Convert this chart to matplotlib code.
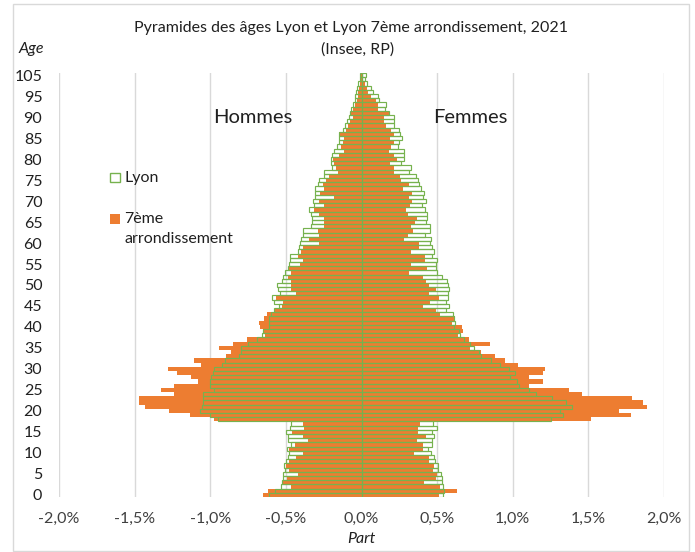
import numpy as np
import matplotlib.pyplot as plt
from matplotlib.patches import Rectangle

# parts en % de la population totale, ages 0 a 100+
ages = np.arange(0, 101)

hommes_lyon = [0.61, 0.57, 0.53, 0.527, 0.52, 0.52, 0.505, 0.51, 0.50, 0.486,
               0.48, 0.49, 0.466, 0.485, 0.486, 0.50, 0.47, 0.465, 0.95, 1.00,
               1.07, 1.055, 1.05, 1.05, 1.045, 0.973, 1.00, 1.00, 0.996, 0.985,
               0.973, 0.923, 0.90, 0.808, 0.80, 0.80, 0.753, 0.693, 0.658, 0.65,
               0.614, 0.61, 0.61, 0.598, 0.576, 0.547, 0.576, 0.59, 0.538, 0.553,
               0.556, 0.525, 0.52, 0.503, 0.485, 0.477, 0.473, 0.473, 0.42, 0.41,
               0.404, 0.40, 0.39, 0.39, 0.333, 0.327, 0.327, 0.333, 0.344, 0.311,
               0.322, 0.305, 0.307, 0.305, 0.289, 0.278, 0.245, 0.245, 0.195, 0.20,
               0.20, 0.195, 0.179, 0.163, 0.15, 0.146, 0.146, 0.12, 0.106, 0.097,
               0.083, 0.079, 0.068, 0.053, 0.046, 0.04, 0.035, 0.031, 0.024, 0.013,
               0.013]

hommes_7e = [0.653, 0.62, 0.466, 0.52, 0.49, 0.42, 0.477, 0.50, 0.48, 0.433,
             0.39, 0.48, 0.44, 0.355, 0.385, 0.46, 0.38, 0.39, 0.973, 1.133,
             1.276, 1.433, 1.474, 1.474, 1.238, 1.326, 1.238, 1.083, 1.128, 1.22,
             1.28, 1.062, 1.11, 0.896, 0.863, 0.94, 0.848, 0.757, 0.636, 0.65,
             0.671, 0.68, 0.645, 0.627, 0.57, 0.525, 0.52, 0.568, 0.432, 0.466,
             0.466, 0.466, 0.488, 0.466, 0.48, 0.404, 0.389, 0.42, 0.40, 0.39,
             0.278, 0.344, 0.278, 0.29, 0.245, 0.245, 0.25, 0.278, 0.311, 0.245,
             0.278, 0.185, 0.274, 0.245, 0.256, 0.234, 0.212, 0.157, 0.168, 0.179,
             0.19, 0.146, 0.113, 0.135, 0.124, 0.113, 0.15, 0.10, 0.09, 0.079,
             0.057, 0.068, 0.057, 0.04, 0.031, 0.024, 0.02, 0.015, 0.01, 0.007,
             0.005]

femmes_lyon = [0.541, 0.543, 0.536, 0.53, 0.532, 0.525, 0.503, 0.508, 0.486, 0.481,
               0.459, 0.442, 0.464, 0.464, 0.477, 0.464, 0.499, 0.47, 1.25, 1.33,
               1.31, 1.39, 1.35, 1.26, 1.157, 1.106, 1.04, 1.025, 0.985, 1.013,
               0.974, 0.914, 0.854, 0.788, 0.779, 0.742, 0.715, 0.68, 0.653, 0.645,
               0.611, 0.616, 0.611, 0.605, 0.556, 0.576, 0.561, 0.572, 0.572, 0.578,
               0.572, 0.565, 0.534, 0.499, 0.494, 0.494, 0.499, 0.468, 0.479, 0.466,
               0.45, 0.457, 0.422, 0.45, 0.45, 0.424, 0.433, 0.433, 0.417, 0.402,
               0.425, 0.404, 0.415, 0.393, 0.382, 0.375, 0.36, 0.316, 0.327, 0.26,
               0.283, 0.283, 0.278, 0.238, 0.249, 0.267, 0.256, 0.249, 0.216, 0.212,
               0.212, 0.183, 0.157, 0.161, 0.117, 0.106, 0.079, 0.066, 0.035, 0.02,
               0.03]

femmes_7e = [0.51, 0.631, 0.521, 0.415, 0.492, 0.499, 0.47, 0.477, 0.448, 0.448,
             0.349, 0.404, 0.404, 0.366, 0.426, 0.371, 0.375, 0.388, 1.52, 1.78,
             1.70, 1.89, 1.86, 1.79, 1.46, 1.373, 1.11, 1.20, 1.11, 1.20,
             1.21, 1.035, 0.95, 0.881, 0.788, 0.72, 0.848, 0.709, 0.638, 0.671,
             0.667, 0.60, 0.62, 0.521, 0.49, 0.406, 0.455, 0.512, 0.444, 0.49,
             0.446, 0.424, 0.406, 0.311, 0.433, 0.325, 0.417, 0.417, 0.329, 0.377,
             0.38, 0.278, 0.307, 0.34, 0.325, 0.351, 0.366, 0.307, 0.296, 0.318,
             0.336, 0.316, 0.331, 0.272, 0.311, 0.26, 0.256, 0.216, 0.212, 0.19,
             0.234, 0.212, 0.183, 0.194, 0.212, 0.19, 0.216, 0.194, 0.161, 0.146,
             0.15, 0.183, 0.11, 0.11, 0.095, 0.062, 0.04, 0.035, 0.02, 0.01,
             0.005]

yticks = list(range(0, 101, 5))
ylabels = [str(t) for t in range(0, 100, 5)] + ['105']
xticks = np.arange(-2.0, 2.01, 0.5)

orange = '#ED7D31'
vert = '#76B24E'

plt.rcParams['font.family'] = ['Lato', 'DejaVu Sans']

fig = plt.figure(figsize=(6.95, 5.52), dpi=100)
ax = fig.add_axes([0.0849, 0.0996, 0.8705, 0.7682])

# 7e arrondissement (plein) puis Lyon (contour) par dessus
ax.barh(ages, -np.array(hommes_7e), height=1.0, color=orange, linewidth=0)
ax.barh(ages, femmes_7e, height=1.0, color=orange, linewidth=0)
ax.barh(ages, -np.array(hommes_lyon), height=1.0, fill=False,
        edgecolor=vert, linewidth=0.85)
ax.barh(ages, femmes_lyon, height=1.0, fill=False,
        edgecolor=vert, linewidth=0.85)

ax.set_xlim(-2.0, 2.0)
ax.set_ylim(-0.5, 100.5)
ax.set_xticks(xticks)
ax.set_xticklabels([('%.1f%%' % v).replace('.', ',').replace('-0,0', '0,0') for v in xticks],
                   fontsize=11.5, color='#404040')
ax.set_yticks(yticks)
ax.set_yticklabels(ylabels, fontsize=11.5, color='#202020')
ax.tick_params(length=0)
ax.tick_params(axis='x', pad=11)
ax.tick_params(axis='y', pad=12)
ax.xaxis.grid(True, color='#D9D9D9', linewidth=1)
ax.set_axisbelow(True)
for s in ax.spines.values():
    s.set_visible(False)

ax.set_xlabel('Part', fontsize=11.5, style='italic', labelpad=4, color='#202020')

ax.text(-0.72, 90, 'Hommes', fontsize=14.5, ha='center', va='center', color='#202020')
ax.text(0.72, 90, 'Femmes', fontsize=14.5, ha='center', va='center', color='#202020')

# legende
ax.add_patch(Rectangle((0.085, 0.742), 0.016, 0.022, transform=ax.transAxes,
                       facecolor='white', edgecolor=vert, linewidth=1.0))
ax.text(0.108, 0.753, 'Lyon', transform=ax.transAxes, fontsize=11.5,
        va='center', color='#202020')
ax.add_patch(Rectangle((0.085, 0.645), 0.016, 0.022, transform=ax.transAxes,
                       facecolor=orange, edgecolor='none'))
ax.text(0.108, 0.656, '7ème', transform=ax.transAxes, fontsize=11.5,
        va='center', color='#202020')
ax.text(0.108, 0.609, 'arrondissement', transform=ax.transAxes, fontsize=11.5,
        va='center', color='#202020')

fig.text(0.505, 0.95, 'Pyramides des âges Lyon et Lyon 7ème arrondissement, 2021',
         fontsize=11.5, ha='center', va='center', color='#202020')
fig.text(0.515, 0.91, '(Insee, RP)', fontsize=11.5, ha='center', va='center',
         color='#202020')
fig.text(0.026, 0.912, 'Age', fontsize=11.5, style='italic', ha='left',
         va='center', color='#202020')

fig.patches.append(Rectangle((0.018, 0.002), 0.973, 0.99, transform=fig.transFigure,
                             fill=False, edgecolor='#D9D9D9', linewidth=1))

fig.savefig('out.png', dpi=100)
